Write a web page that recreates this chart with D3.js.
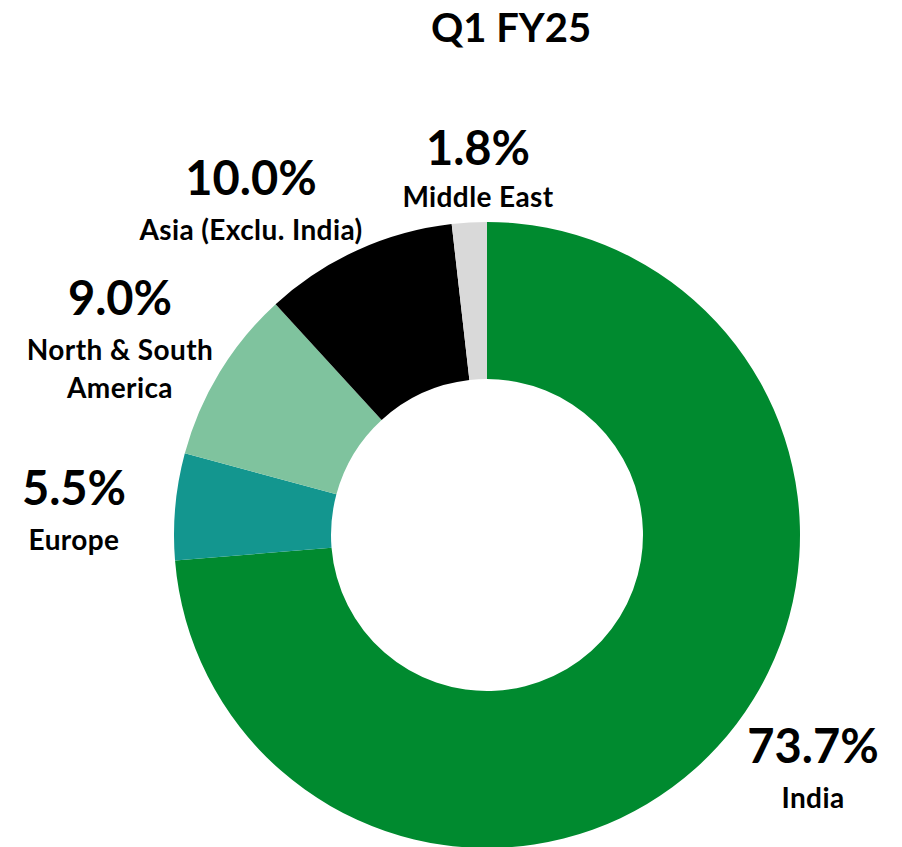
<!DOCTYPE html>
<html><head><meta charset="utf-8">
<script src="https://cdn.jsdelivr.net/npm/d3@7"></script>
<style>body{margin:0;background:#fff}svg{display:block}text{font-family:Lato,"Open Sans",sans-serif;font-weight:bold;fill:#000}</style>
</head><body><svg id="c" width="902" height="847"></svg>
<script>
const categories = ["India","Europe","North & South America","Asia (Exclu. India)","Middle East"];
const values = [73.7, 5.5, 9.0, 10.0, 1.8];
const valueLabels = ["73.7%","5.5%","9.0%","10.0%","1.8%"];
const nameLines = [["India"],["Europe"],["North & South","America"],["Asia (Exclu. India)"],["Middle East"]];
const colors = ["#008A2F","#13968F","#7FC39E","#000000","#D9D9D9"];
const title = "Q1 FY25";

const svg = d3.select("#c");
const cx = 487, cy = 535, R = 313, r = 156;
const pie = d3.pie().sort(null).value(d=>d)(values);
const arc = d3.arc().innerRadius(r).outerRadius(R);
const g = svg.append("g").attr("transform",`translate(${cx},${cy})`);
g.selectAll("path").data(pie).join("path").attr("d",arc).attr("fill",(d,i)=>colors[i]);

svg.append("text").attr("x",511).attr("y",42).attr("text-anchor","middle").attr("font-size",40).text(title);

const labelPos = [
  {x:813, vy:763, ny:808},
  {x:74,  vy:505, ny:550},
  {x:120, vy:315, ny:360},
  {x:251, vy:195, ny:240},
  {x:478, vy:165, ny:207}
];
const lg = svg.append("g");
labelPos.forEach((p,i)=>{
  lg.append("text").attr("x",p.x).attr("y",p.vy).attr("text-anchor","middle").attr("font-size",47).text(valueLabels[i]);
  nameLines[i].forEach((t,j)=>{
    lg.append("text").attr("x",p.x).attr("y",p.ny+j*38).attr("text-anchor","middle")
      .attr("font-size",28).attr("letter-spacing",0.4).text(t);
  });
});
</script></body></html>
